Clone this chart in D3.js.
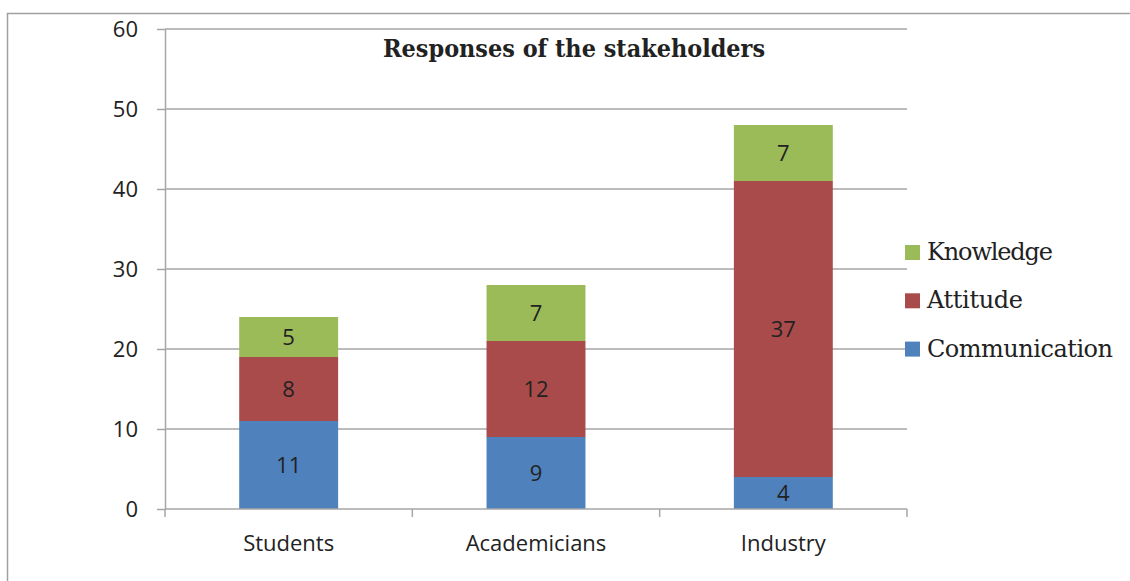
<!DOCTYPE html>
<html><head><meta charset="utf-8">
<script src="https://cdn.jsdelivr.net/npm/d3@7"></script>
<style>html,body{margin:0;padding:0;background:#fff;}</style>
</head><body>
<svg id="c" width="1130" height="581"></svg>
<script>
const categories = ["Students", "Academicians", "Industry"];
const seriesNames = ["Communication", "Attitude", "Knowledge"];
const communication = [11, 9, 4];
const attitude = [8, 12, 37];
const knowledge = [5, 7, 7];
const yTicks = [0, 10, 20, 30, 40, 50, 60];
const colors = ["#4F81BD", "#AA4B4B", "#9BBB59"];
const title = "Responses of the stakeholders";

const svg = d3.select("#c");
const pLeft = 165, pRight = 907, pTop = 29, pBottom = 509;
const x = d3.scaleBand().domain(categories).range([pLeft, pRight]).paddingInner(0.6).paddingOuter(0.3);
const xOuter = d3.scaleBand().domain(categories).range([pLeft, pRight]);
const y = d3.scaleLinear().domain([0, 60]).range([pBottom, pTop]);
const gridColor = "#A6A6A6";
const sans = "'Open Sans', 'Noto Sans', sans-serif";
const serif = "'DejaVu Serif', 'Liberation Serif', serif";

// outer border
svg.append("path").attr("d", "M7.5,581 V13.5 H1130").attr("fill", "none").attr("stroke", "#A0A0A0").attr("stroke-width", 1.5);

// gridlines
svg.append("g").selectAll("line").data(yTicks.filter(d => d > 0)).join("line")
  .attr("x1", pLeft).attr("x2", pRight).attr("y1", d => y(d)).attr("y2", d => y(d))
  .attr("stroke", gridColor).attr("stroke-width", 1.5);

// y axis
const yAxis = svg.append("g").attr("transform", `translate(${pLeft},0)`)
  .call(d3.axisLeft(y).tickValues(yTicks).tickSize(8).tickPadding(19).tickSizeOuter(0));
yAxis.select(".domain").attr("stroke", gridColor).attr("stroke-width", 1.5);
yAxis.selectAll(".tick line").attr("stroke", gridColor).attr("stroke-width", 1.5);
yAxis.selectAll(".tick text").attr("font-family", sans).attr("font-size", 22).attr("fill", "#222").attr("dy", "0.34em");

// stacked bars
const rows = categories.map((c, i) => ({cat: c, Communication: communication[i], Attitude: attitude[i], Knowledge: knowledge[i]}));
const stack = d3.stack().keys(seriesNames)(rows);
const g = svg.append("g");
stack.forEach((s, si) => {
  g.selectAll(null).data(s).join("rect")
    .attr("x", d => x(d.data.cat)).attr("width", x.bandwidth())
    .attr("y", d => y(d[1])).attr("height", d => y(d[0]) - y(d[1]))
    .attr("fill", colors[si]);
  g.selectAll(null).data(s).join("text")
    .attr("x", d => x(d.data.cat) + x.bandwidth() / 2)
    .attr("y", d => (y(d[0]) + y(d[1])) / 2)
    .attr("dy", "0.36em").attr("text-anchor", "middle")
    .attr("font-family", sans).attr("font-size", 22).attr("fill", "#222")
    .text(d => d[1] - d[0]);
});

// x axis
const xAxisG = svg.append("g");
xAxisG.append("line").attr("x1", pLeft).attr("x2", pRight).attr("y1", pBottom).attr("y2", pBottom)
  .attr("stroke", gridColor).attr("stroke-width", 1.5);
const bounds = categories.map(c => xOuter(c)).concat([pRight]);
xAxisG.selectAll(".tk").data(bounds).join("line").attr("class", "tk")
  .attr("x1", d => d).attr("x2", d => d).attr("y1", pBottom).attr("y2", pBottom + 8)
  .attr("stroke", gridColor).attr("stroke-width", 1.5);
xAxisG.selectAll("text").data(categories).join("text")
  .attr("x", d => xOuter(d) + xOuter.bandwidth() / 2).attr("y", 551)
  .attr("text-anchor", "middle").attr("font-family", sans).attr("font-size", 22).attr("fill", "#222")
  .text(d => d);

// title
svg.append("text").attr("x", 574).attr("y", 57).attr("text-anchor", "middle")
  .attr("font-family", serif).attr("font-weight", "bold").attr("font-size", 23.5).attr("fill", "#222")
  .attr("textLength", 382).attr("lengthAdjust", "spacingAndGlyphs")
  .text(title);

// legend
const legendItems = ["Knowledge", "Attitude", "Communication"];
const legendColors = [colors[2], colors[1], colors[0]];
const lg = svg.append("g");
const legendWidths = [126, 96, 186];
legendItems.forEach((name, i) => {
  const by = 260 + i * 48.3;
  lg.append("rect").attr("x", 905).attr("y", by - 15).attr("width", 15).attr("height", 15).attr("fill", legendColors[i]);
  lg.append("text").attr("x", 927).attr("y", by).attr("font-family", serif).attr("font-size", 24).attr("fill", "#222")
    .attr("textLength", legendWidths[i]).attr("lengthAdjust", "spacing").text(name);
});
</script>
</body></html>
